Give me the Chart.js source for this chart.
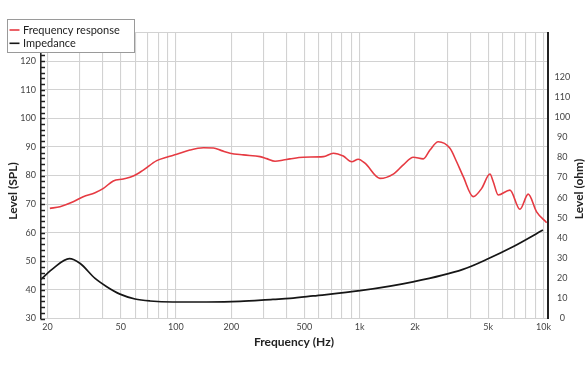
<!DOCTYPE html>
<html><head><meta charset="utf-8">
<script src="https://cdn.jsdelivr.net/npm/chart.js@4"></script>
<style>html,body{margin:0;padding:0;background:#fff}#wrap{width:588px;height:372px;position:relative}</style>
</head><body><div id="wrap"><canvas id="c" width="588" height="372"></canvas></div>
<script>
// ---- data ----
const freqResponseHz = [20.6, 23.4, 27.6, 31.3, 36.3, 40.3, 45.6, 51.7, 58.6, 66.4, 78.6, 89, 101, 119, 141, 160, 177, 197, 233, 287, 312, 346, 384, 417, 493, 634, 718, 814, 904, 982, 1068, 1288, 1522, 1726, 1956, 2217, 2411, 2674, 3097, 3367, 3659, 4147, 4608, 5111, 5328, 5672, 6568, 7443, 8257, 9173, 10400];
const freqResponseDb = [68.5, 69.1, 70.8, 72.6, 74.0, 75.5, 78.1, 78.8, 79.8, 81.9, 85.2, 86.4, 87.4, 88.9, 89.7, 89.6, 88.7, 87.8, 87.2, 86.6, 85.9, 85.0, 85.4, 85.8, 86.4, 86.6, 87.8, 86.8, 84.8, 85.7, 84.3, 79.0, 80.5, 83.7, 86.4, 85.8, 88.9, 91.8, 89.5, 84.8, 79.6, 72.6, 75.5, 80.5, 77.8, 73.2, 74.9, 68.2, 73.5, 67.3, 63.5];
const impedanceHz = [18.4, 21.5, 26.3, 30, 36.3, 42, 49.6, 59.9, 72.2, 96.3, 147, 223, 337, 417, 557, 1003, 1948, 3645, 4923, 6820, 9930];
const impedanceOhm = [19.4, 24.9, 29.7, 27.4, 19.9, 15.8, 12.1, 9.7, 8.7, 8.2, 8.2, 8.5, 9.5, 10.0, 11.2, 13.8, 18.2, 24.4, 29.4, 35.6, 43.9];
const xGridValues = [20,30,40,50,60,70,80,90,100,200,300,400,500,600,700,800,900,1000,2000,3000,4000,5000,6000,7000,8000,9000,10000];
const xTickLabels = {20:'20',50:'50',100:'100',200:'200',500:'500',1000:'1k',2000:'2k',5000:'5k',10000:'10k'};
const splTicks = [30,40,50,60,70,80,90,100,110,120,130];
const ohmTicks = [0,10,20,30,40,50,60,70,80,90,100,110,120];
const seriesNames = ['Frequency response', 'Impedance'];
const seriesColors = ['#e63a42', '#161616'];
const axisTitles = {x: 'Frequency (Hz)', left: 'Level (SPL)', right: 'Level (ohm)'};

const FONT = 'Lato, "Noto Sans", sans-serif';

const extras = {
  id: 'extras',
  afterDraw(chart) {
    const ctx = chart.ctx;
    const ca = chart.chartArea;
    const yS = chart.scales.ySPL;
    ctx.save();
    // inward minor ticks on the left axis
    ctx.strokeStyle = '#222';
    ctx.lineWidth = 1.5;
    for (let v = 30; v <= 130; v += 2) {
      const y = Math.round(yS.getPixelForValue(v)) + 0.5;
      ctx.beginPath();
      ctx.moveTo(ca.left, y);
      ctx.lineTo(ca.left + 4.5, y);
      ctx.stroke();
    }
    // vertical axis titles
    ctx.fillStyle = '#222';
    ctx.font = 'bold 12px ' + FONT;
    ctx.textAlign = 'center';
    ctx.textBaseline = 'middle';
    ctx.save();
    ctx.translate(13, 191);
    ctx.rotate(-Math.PI / 2);
    ctx.fillText(axisTitles.left, 0, 0);
    ctx.restore();
    ctx.save();
    ctx.translate(579, 189);
    ctx.rotate(-Math.PI / 2);
    ctx.fillText(axisTitles.right, 0, 0);
    ctx.restore();
    // legend box
    ctx.fillStyle = '#fff';
    ctx.fillRect(7.5, 19.5, 127, 33);
    ctx.strokeStyle = '#9a9a9a';
    ctx.lineWidth = 1;
    ctx.strokeRect(7.5, 19.5, 127, 33);
    ctx.font = '11px ' + FONT;
    ctx.textAlign = 'left';
    seriesNames.forEach((name, i) => {
      const y = 30 + i * 13.3;
      ctx.strokeStyle = seriesColors[i];
      ctx.lineWidth = 1.6;
      ctx.beginPath();
      ctx.moveTo(9.5, y);
      ctx.lineTo(19.5, y);
      ctx.stroke();
      ctx.fillStyle = '#222';
      ctx.fillText(name, 23, y + 0.5);
    });
    ctx.restore();
  }
};

new Chart(document.getElementById('c'), {
  type: 'line',
  data: {
    datasets: [
      {
        label: seriesNames[0],
        data: freqResponseHz.map((f, i) => ({x: f, y: freqResponseDb[i]})),
        yAxisID: 'ySPL',
        borderColor: seriesColors[0],
        borderWidth: 1.6,
        pointRadius: 0,
        cubicInterpolationMode: 'monotone',
        fill: false
      },
      {
        label: seriesNames[1],
        data: impedanceHz.map((f, i) => ({x: f, y: impedanceOhm[i]})),
        yAxisID: 'yOhm',
        borderColor: seriesColors[1],
        borderWidth: 1.7,
        pointRadius: 0,
        cubicInterpolationMode: 'monotone',
        fill: false
      }
    ]
  },
  options: {
    responsive: false,
    animation: false,
    events: [],
    layout: {padding: {top: 32.5, left: 0, right: 0, bottom: 0}},
    plugins: {legend: {display: false}, tooltip: {enabled: false}, title: {display: false}},
    scales: {
      x: {
        type: 'logarithmic',
        position: 'bottom',
        min: 18.32,
        max: 10514,
        afterBuildTicks: (s) => { s.ticks = xGridValues.map(v => ({value: v})); },
        afterFit: (s) => { s.height = 53.5; },
        ticks: {
          autoSkip: false, maxRotation: 0, minRotation: 0, padding: 3,
          color: '#444', font: {family: FONT, size: 9},
          callback: (v) => (xTickLabels[v] !== undefined ? xTickLabels[v] : '')
        },
        grid: {color: '#d2d2d2', lineWidth: 1.1, drawTicks: false},
        border: {display: false},
        title: {display: true, text: axisTitles.x, color: '#222', font: {family: FONT, size: 12, weight: 'bold'}, padding: {top: 0, bottom: 23}}
      },
      ySPL: {
        type: 'linear',
        position: 'left',
        min: 30,
        max: 130,
        afterBuildTicks: (s) => { s.ticks = splTicks.map(v => ({value: v})); },
        afterFit: (s) => { s.width = 40.5; },
        ticks: {
          padding: 4.5, color: '#444', font: {family: FONT, size: 9},
          callback: (v) => (v <= 120 ? String(v) : '')
        },
        grid: {color: '#d2d2d2', lineWidth: 1.1, drawTicks: false},
        border: {display: true, color: '#222', width: 1.6}
      },
      yOhm: {
        type: 'linear',
        position: 'right',
        min: 0,
        max: 142,
        afterBuildTicks: (s) => { s.ticks = ohmTicks.map(v => ({value: v})); },
        afterFit: (s) => { s.width = 40.5; },
        ticks: {
          padding: 7, crossAlign: 'center', color: '#444', font: {family: FONT, size: 9}
        },
        grid: {display: false, drawTicks: false},
        border: {display: true, color: '#222', width: 2}
      }
    }
  },
  plugins: [extras]
});
</script>
</body></html>
